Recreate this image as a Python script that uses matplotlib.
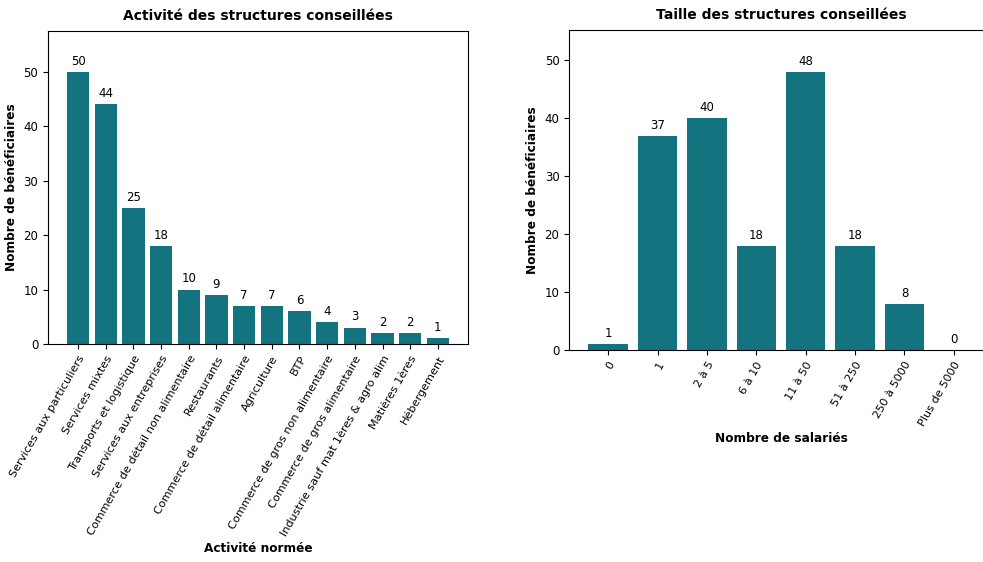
import matplotlib.pyplot as plt

# données : activité des structures
activites = ["Services aux particuliers", "Services mixtes", "Transports et logistique",
             "Services aux entreprises", "Commerce de détail non alimentaire", "Restaurants",
             "Commerce de détail alimentaire", "Agriculture", "BTP",
             "Commerce de gros non alimentaire", "Commerce de gros alimentaire",
             "Industrie sauf mat 1ères & agro alim", "Matières 1ères", "Hébergement"]
nb_activite = [50, 44, 25, 18, 10, 9, 7, 7, 6, 4, 3, 2, 2, 1]

# données : taille des structures
tailles = ["0", "1", "2 à 5", "6 à 10", "11 à 50", "51 à 250", "250 à 5000", "Plus de 5000"]
nb_taille = [1, 37, 40, 18, 48, 18, 8, 0]

couleur = "#137480"

fig = plt.figure(figsize=(9.83, 5.62), dpi=100)
ax1 = fig.add_axes([0.0488, 0.388, 0.4273, 0.557])
ax2 = fig.add_axes([0.579, 0.377, 0.431, 0.569])


def tracer(ax, labels, valeurs, titre, xlabel):
    barres = ax.bar(labels, valeurs, color=couleur, width=0.8)
    for b, v in zip(barres, valeurs):
        ax.annotate(str(v), (b.get_x() + b.get_width() / 2, v), xytext=(0, 3),
                    textcoords="offset points", ha="center", va="bottom", fontsize=8.5)
    ax.set_ylim(0, max(valeurs) * 1.15)
    ax.set_title(titre, fontsize=10, fontweight="bold", pad=8)
    ax.set_xlabel(xlabel, fontsize=8.7, fontweight="bold", labelpad=3)
    ax.set_ylabel("Nombre de bénéficiaires", fontsize=8.7, fontweight="bold")
    ax.tick_params(axis="y", labelsize=8.5)
    plt.setp(ax.get_xticklabels(), rotation=60, ha="right", rotation_mode="anchor",
             fontsize=8.1)


tracer(ax1, activites, nb_activite, "Activité des structures conseillées", "Activité normée")
tracer(ax2, tailles, nb_taille, "Taille des structures conseillées", "Nombre de salariés")

fig.savefig("out.png", dpi=100)
